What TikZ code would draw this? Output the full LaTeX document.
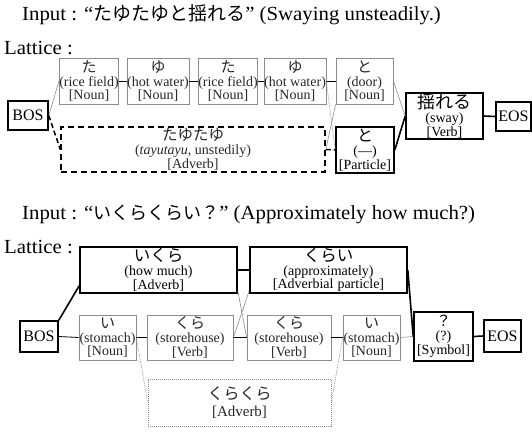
\documentclass[tikz,border=0pt]{standalone}
\usepackage{fontspec}
\setmainfont{Liberation Serif}
\newfontfamily\jp{Noto Sans CJK JP}
\newfontfamily\ttlfont[FakeStretch=1.04]{Liberation Serif}
\usetikzlibrary{calc}
\newcommand\Jt[2]{{\jp\fontsize{#1}{#1}\selectfont #2}}
\tikzset{
 graybox/.style={draw=black!45, line width=0.7pt, inner sep=0pt, align=center, text=black!85, font=\fontsize{14}{13.5}\selectfont},
 blkbox/.style={draw=black, line width=1.6pt, inner sep=0pt, align=center, text=black, font=\fontsize{14}{13.5}\selectfont},
 dashbox/.style={draw=black, line width=1.5pt, dash pattern=on 6pt off 4pt, inner sep=0pt, align=center, text=black!85, font=\fontsize{14}{13.5}\selectfont},
 dotbox/.style={draw=black!45, line width=0.6pt, dash pattern=on 1pt off 1pt, inner sep=0pt, align=center, text=black!85, font=\fontsize{15}{15}\selectfont},
 termbox/.style={draw=black, line width=1.6pt, inner sep=0pt, font=\fontsize{16}{16}\selectfont},
 ttl/.style={anchor=base west, inner sep=0pt, font=\ttlfont\fontsize{20}{24}\selectfont},
 lnthin/.style={black, line width=0.8pt},
 lnthick/.style={black, line width=1.6pt},
 lnfaint/.style={black!45, line width=0.6pt},
 lndot/.style={black!45, line width=0.6pt, dash pattern=on 1pt off 1pt},
 lndash/.style={black, line width=1.5pt, dash pattern=on 5pt off 3pt},
}
\begin{document}
\begin{tikzpicture}[x=1pt,y=-1pt]
\useasboundingbox (0,0) rectangle (532,432);
% ---------- first example ----------
\node[ttl] (t1) at (22,20) {Input : “\Jt{19}{たゆたゆと揺れる}” (Swaying unsteadily.)};
\node[ttl] (l1) at (4,54) {Lattice :};

\node[termbox, minimum width=40pt, minimum height=29pt] (bos1) at (28,115.5) {BOS};
\node[graybox, minimum width=58pt, minimum height=46pt] (b1) at (89,81) {\Jt{15}{た}\\[0.5pt](rice field)\\{[Noun]}};
\node[graybox, minimum width=58pt, minimum height=46pt] (b2) at (158,81) {\Jt{15}{ゆ}\\[0.5pt](hot water)\\{[Noun]}};
\node[graybox, minimum width=58pt, minimum height=46pt] (b3) at (228,81) {\Jt{15}{た}\\[0.5pt](rice field)\\{[Noun]}};
\node[graybox, minimum width=58pt, minimum height=46pt] (b4) at (295,81) {\Jt{15}{ゆ}\\[0.5pt](hot water)\\{[Noun]}};
\node[graybox, minimum width=57pt, minimum height=46pt] (b5) at (364.5,81) {\Jt{15}{と}\\[0.5pt](door)\\{[Noun]}};
\node[dashbox, minimum width=264pt, minimum height=45pt] (tay) at (193,149.5) {\Jt{15.5}{たゆたゆ}\\[0.5pt](\textit{tayutayu}, unstedily)\\{[Adverb]}};
\node[blkbox, minimum width=58pt, minimum height=46pt] (part) at (365,150) {\Jt{16}{と}\\[0.5pt](―)\\{[Particle]}};
\node[blkbox, minimum width=77pt, minimum height=46pt] (sway) at (444.5,116) {\Jt{18}{揺れる}\\[0.5pt](sway)\\{[Verb]}};
\node[termbox, minimum width=35pt, minimum height=29pt] (eos1) at (513.5,116.5) {EOS};

\draw[lnfaint] (bos1.east) -- (b1.west);
\draw[lndash] (bos1.east) -- (tay.west);
\draw[lnthin] (b1.east) -- (b2.west);
\draw[lnthin] (b2.east) -- (b3.west);
\draw[lnthin] (b3.east) -- (b4.west);
\draw[lnthin] (b4.east) -- (b5.west);
\draw[lndot] (b4.east) -- (part.west);
\draw[lnfaint] (tay.east) -- (b5.south west);
\draw[lndash] (tay.east) -- (part.west);
\draw[lnfaint] (b5.east) -- (sway.west);
\draw[lnthick] (part.east) -- (sway.west);
\draw[lnthick] (sway.east) -- (eos1.west);

% ---------- second example ----------
\node[ttl] (t2) at (22,219) {Input : “\Jt{18}{いくらくらい？}” (Approximately how much?)};
\node[ttl] (l2) at (4,253) {Lattice :};

\node[termbox, minimum width=38pt, minimum height=31pt] (bos2) at (39,336.5) {BOS};
\node[blkbox, minimum width=157pt, minimum height=46pt] (ikura) at (158.5,270) {\Jt{16.5}{いくら}\\[0.5pt](how much)\\{[Adverb]}};
\node[blkbox, minimum width=157pt, minimum height=46pt] (kurai) at (328.5,270) {\Jt{16.5}{くらい}\\[0.5pt](approximately)\\{[Adverbial\hspace{4pt}particle]}};
\node[graybox, minimum width=57pt, minimum height=45pt] (i1) at (107.5,337.5) {\Jt{15}{い}\\[0.5pt](stomach)\\{[Noun]}};
\node[graybox, minimum width=86pt, minimum height=45pt] (kura1) at (190,337.5) {\Jt{15}{くら}\\[0.5pt](storehouse)\\{[Verb]}};
\node[graybox, minimum width=84pt, minimum height=45pt] (kura2) at (289,337.5) {\Jt{15}{くら}\\[0.5pt](storehouse)\\{[Verb]}};
\node[graybox, minimum width=57pt, minimum height=45pt] (i2) at (371.5,337.5) {\Jt{15}{い}\\[0.5pt](stomach)\\{[Noun]}};
\node[blkbox, minimum width=59pt, minimum height=49pt] (q) at (443.5,336.5) {\Jt{15}{？}\\[0.5pt](?)\\{[Symbol]}};
\node[termbox, minimum width=37pt, minimum height=32pt] (eos2) at (502.5,336) {EOS};
\node[dotbox, minimum width=183pt, minimum height=47pt] (kk) at (239.5,402.5) {\Jt{16}{くらくら}\\[2pt]{[Adverb]}};

\draw[lnthick] (bos2.north east) -- ([yshift=8pt]ikura.south west);
\draw[lnthin] (bos2.east) -- (i1.west);
\draw[lnthin] (i1.east) -- (kura1.west);
\draw[lnthin] (kura1.east) -- (kura2.west);
\draw[lnthin] (kura2.east) -- (i2.west);
\draw[lnfaint] (i2.east) -- (q.west);
\draw[lnthick] (q.east) -- (eos2.west);
\draw[lnthick] (ikura.east) -- (kurai.west);
\draw[lnfaint] ([yshift=3pt]ikura.south east) -- (kura2.west);
\draw[lnfaint] (kura1.east) -- ([yshift=3pt]kurai.south west);
\draw[lnthick] (kurai.east) -- (q.west);
\draw[lndot] (i1.east) -- (kk.west);
\draw[lndot] (i2.west) -- (kk.east);
\end{tikzpicture}
\end{document}
